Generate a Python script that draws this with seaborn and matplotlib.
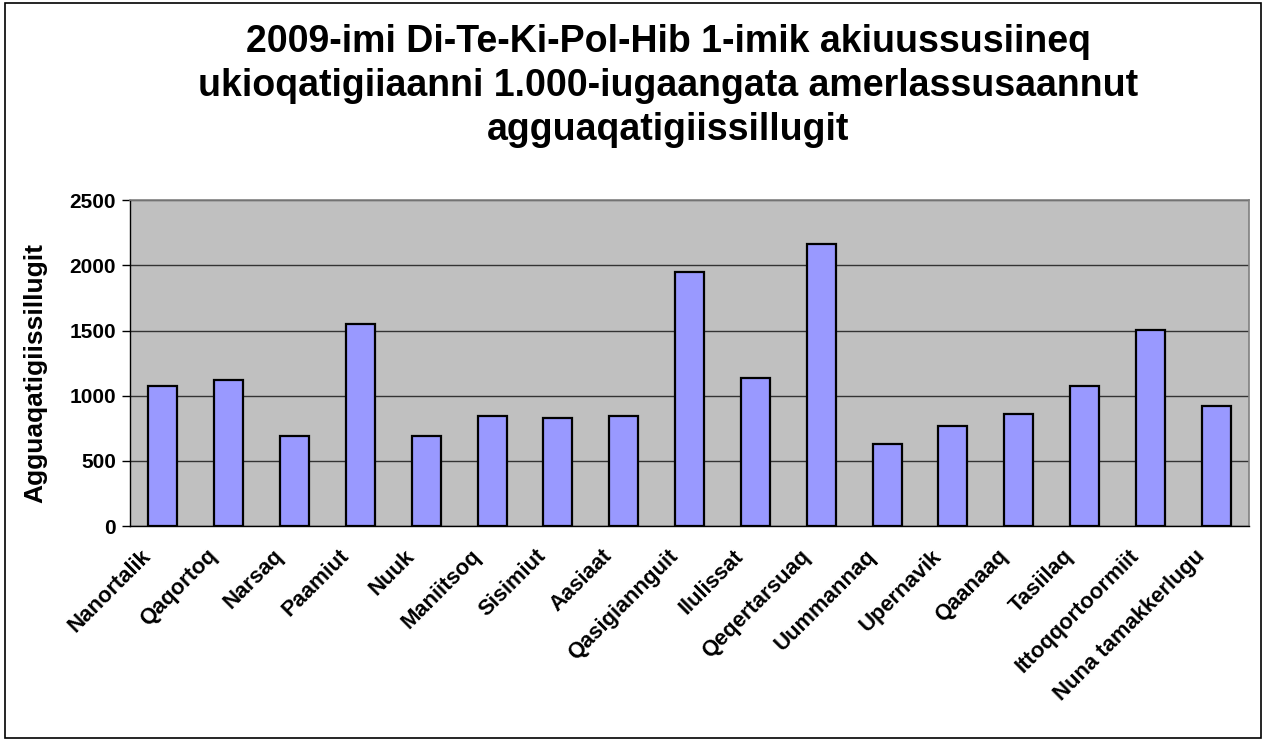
import matplotlib.pyplot as plt
import matplotlib.transforms as mtransforms
import numpy as np
import pandas as pd
import seaborn as sns
from matplotlib.patches import Rectangle

# Values
places = ["Nanortalik", "Qaqortoq", "Narsaq", "Paamiut", "Nuuk", "Maniitsoq",
          "Sisimiut", "Aasiaat", "Qasigiannguit", "Ilulissat", "Qeqertarsuaq",
          "Uummannaq", "Upernavik", "Qaanaaq", "Tasiilaq", "Ittoqqortoormiit",
          "Nuna tamakkerlugu"]
values = [1075, 1120, 690, 1550, 690, 844, 828, 844, 1948, 1135, 2163,
          629, 767, 859, 1074, 1503, 920]
yticks = [0, 500, 1000, 1500, 2000, 2500]

df = pd.DataFrame({"place": places, "value": values})

sns.set_style("white")
plt.rcParams["font.family"] = ["Liberation Sans", "DejaVu Sans"]
plt.rcParams["text.color"] = "black"
plt.rcParams["axes.labelcolor"] = "black"
plt.rcParams["xtick.color"] = "black"
plt.rcParams["ytick.color"] = "black"

fig = plt.figure(figsize=(12.66, 7.40), dpi=100)
ax = fig.add_axes([0.1027, 0.289, 0.884, 0.4406])

sns.barplot(data=df, x="place", y="value", color="#9999FF", width=0.44,
            edgecolor="black", linewidth=1.6, saturation=1, ax=ax, zorder=3)

ax.set_facecolor("#C0C0C0")
ax.set_ylim(0, 2500)
ax.set_xlim(-0.5, len(places) - 0.5)
ax.set_yticks(yticks)
ax.set_yticklabels([str(t) for t in yticks], fontsize=15, fontweight="bold")
ax.yaxis.grid(True, color="#333333", linewidth=1)
ax.set_axisbelow(True)

# ticks between categories on x
ax.set_xticks(np.arange(len(places)))
ax.set_xticklabels(places, rotation=45, ha="right", rotation_mode="anchor",
                   fontsize=15.8, fontweight="bold")
ax.set_xticks(np.arange(len(places) + 1) - 0.5, minor=True)
ax.tick_params(axis="x", which="major", length=0, pad=14)
ax.tick_params(axis="x", which="minor", length=6, width=1, color="black",
               direction="out")
ax.tick_params(axis="y", length=6, width=1, color="black", direction="out",
               left=True, pad=4)

# nudge the slanted labels a bit left, like the original
shift = mtransforms.ScaledTranslation(-16 / 72, 0, fig.dpi_scale_trans)
for lbl in ax.get_xticklabels():
    lbl.set_transform(lbl.get_transform() + shift)

for side in ["top", "right"]:
    ax.spines[side].set_color("#808080")
    ax.spines[side].set_linewidth(1.2)
for side in ["left", "bottom"]:
    ax.spines[side].set_color("black")
    ax.spines[side].set_linewidth(1)

ax.set_xlabel("")
ax.set_ylabel("Agguaqatigiissillugit", fontsize=19, fontweight="bold")
ax.yaxis.set_label_coords(-0.074, 0.47)

fig.suptitle("2009-imi Di-Te-Ki-Pol-Hib 1-imik akiuussusiineq\n"
             "ukioqatigiiaanni 1.000-iugaangata amerlassusaannut\n"
             "agguaqatigiissillugit",
             x=0.528, y=0.968, fontsize=27, fontweight="bold", linespacing=1.3)

fig.patches.append(Rectangle((0.004, 0.003), 0.992, 0.993, transform=fig.transFigure,
                             fill=False, edgecolor="black", linewidth=1.2))

fig.savefig("out.png", dpi=100)
